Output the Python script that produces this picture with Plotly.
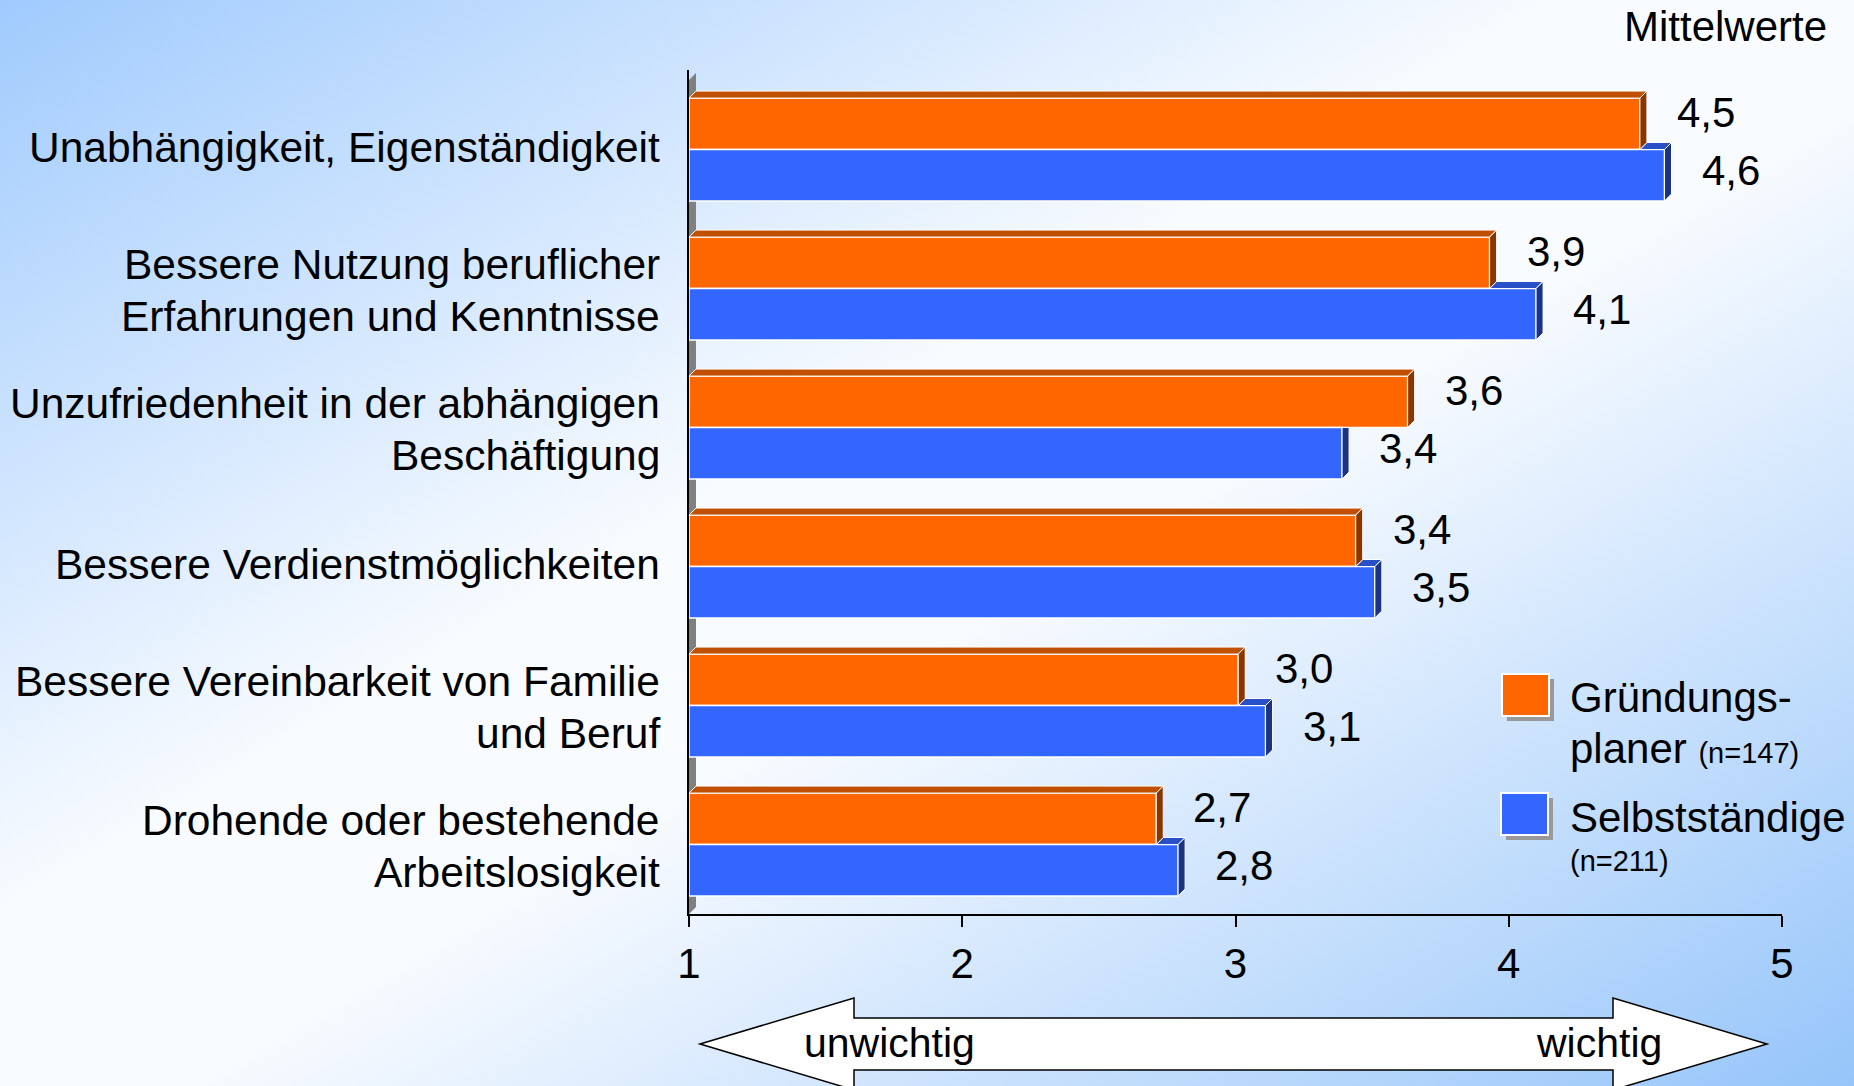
import base64
import numpy as np
import plotly.graph_objects as go

# ── Data ──────────────────────────────────────────────────────────────────────
categories = [
    "Unabhängigkeit, Eigenständigkeit",
    "Bessere Nutzung beruflicher<br>Erfahrungen und Kenntnisse",
    "Unzufriedenheit in der abhängigen<br>Beschäftigung",
    "Bessere Verdienstmöglichkeiten",
    "Bessere Vereinbarkeit von Familie<br>und Beruf",
    "Drohende oder bestehende<br>Arbeitslosigkeit",
]
gruendungsplaner = [4.48, 3.93, 3.63, 3.44, 3.01, 2.71]
selbststaendige = [4.57, 4.10, 3.39, 3.51, 3.11, 2.79]
series_labels = ["Gründungs-", "planer", "Selbstständige"]
series_n = ["(n=147)", "(n=211)"]
x_ticks = [1, 2, 3, 4, 5]
scale_labels = ["unwichtig", "wichtig"]
unit_label = "Mittelwerte"

# ── Colours ───────────────────────────────────────────────────────────────────
ORANGE, ORANGE_TOP, ORANGE_SIDE = "#FF6600", "#C04F00", "#8A3600"
BLUE, BLUE_TOP, BLUE_SIDE = "#3366FF", "#2A50C8", "#1A3385"
WALL = "#808080"
FONT = "Liberation Sans, Arial, sans-serif"

# ── Page geometry (pixels) ────────────────────────────────────────────────────
W, H = 1854, 1086
ML, MR, MT, MB = 689, 72, 70, 172
PW, PH = W - ML - MR, H - MT - MB
CAT_PX = 139                      # pixel height of one category band
BAR_W = 0.37                      # bar thickness in category units
DX = 7 / (PW / (x_ticks[-1] - x_ticks[0]))   # 3D depth in x units
DY = 7 / CAT_PX                               # 3D depth in category units
Y_RANGE = [len(categories) - 0.5, len(categories) - 0.5 - PH / CAT_PX]


def px(x):
    return (x - ML) / PW


def py(y):
    return (H - MB - y) / PH


pos = np.arange(len(categories))
y_or = pos - BAR_W / 2
y_bl = pos + BAR_W / 2
v_or = np.array(gruendungsplaner)
v_bl = np.array(selbststaendige)

fig = go.Figure()

# front faces
for yy, vals, col in [(y_or, v_or, ORANGE), (y_bl, v_bl, BLUE)]:
    fig.add_trace(go.Bar(
        y=yy, x=vals - 1, base=1, width=BAR_W, orientation="h",
        marker=dict(color=col, line=dict(color="white", width=1.5)),
        hoverinfo="skip", showlegend=False,
    ))


def add_poly(xs, ys, colour):
    fig.add_trace(go.Scatter(
        x=xs, y=ys, mode="lines", fill="toself", fillcolor=colour,
        line=dict(color="white", width=1), hoverinfo="skip", showlegend=False,
    ))


# 3D faces, built from the values
top_x, top_y, side_x, side_y = [], [], [], []
btop_x, btop_y, bside_x, bside_y = [], [], [], []
for i in range(len(categories)):
    t, b = y_or[i] - BAR_W / 2, y_or[i] + BAR_W / 2
    v = v_or[i]
    top_x += [1, v, v + DX, 1 + DX, 1, None]
    top_y += [t, t, t - DY, t - DY, t, None]
    side_x += [v, v + DX, v + DX, v, v, None]
    side_y += [t, t - DY, b - DY, b, t, None]

    tb, bb = y_bl[i] - BAR_W / 2, y_bl[i] + BAR_W / 2
    w = v_bl[i]
    if w > v:
        btop_x += [v, w, w + DX, v + DX, v, None]
        btop_y += [tb, tb, tb - DY, tb - DY, tb, None]
        bside_x += [w, w + DX, w + DX, w, w, None]
        bside_y += [tb, tb - DY, bb - DY, bb, tb, None]
    else:
        bside_x += [w, w + DX, w + DX, w, w, None]
        bside_y += [tb, tb, bb - DY, bb, tb, None]

add_poly(btop_x, btop_y, BLUE_TOP)
add_poly(bside_x, bside_y, BLUE_SIDE)
add_poly(top_x, top_y, ORANGE_TOP)
add_poly(side_x, side_y, ORANGE_SIDE)

annotations = []

# value labels
for yy, vals, shift in [(y_or, v_or, 11), (y_bl, v_bl, 5)]:
    for y, v in zip(yy, vals):
        annotations.append(dict(
            x=v, y=y, xref="x", yref="y", text=f"{v:.1f}".replace(".", ","),
            xanchor="left", yanchor="middle", xshift=35, yshift=shift,
            showarrow=False, font=dict(size=42, color="black", family=FONT),
        ))

# category labels, one annotation per line for tight line spacing
for i, cat in enumerate(categories):
    lines = cat.split("<br>")
    n = len(lines)
    base_shift = 2 if n == 1 else -2
    for j, line in enumerate(lines):
        annotations.append(dict(
            x=x_ticks[0], y=pos[i], xref="x", yref="y", text=line,
            xanchor="right", yanchor="middle", xshift=-27,
            yshift=-(j - (n - 1) / 2) * 52 + base_shift,
            showarrow=False, font=dict(size=42.5, color="black", family=FONT),
        ))

annotations.append(dict(
    x=px(1829), y=py(26), xref="paper", yref="paper", text=unit_label,
    xanchor="right", yanchor="middle", showarrow=False,
    font=dict(size=42, color="black", family=FONT),
))

# legend
shapes = []
for (x0, y0), col in [((1502, 674), ORANGE), ((1501, 793), BLUE)]:
    shapes.append(dict(type="rect", xref="paper", yref="paper",
                       x0=px(x0 + 5), x1=px(x0 + 52), y0=py(y0 + 5), y1=py(y0 + 47),
                       fillcolor="#999999", line=dict(width=0)))
    shapes.append(dict(type="rect", xref="paper", yref="paper",
                       x0=px(x0), x1=px(x0 + 47), y0=py(y0), y1=py(y0 + 42),
                       fillcolor=col, line=dict(color="white", width=2)))

legend_lines = [
    (series_labels[0], 697),
    (f"{series_labels[1]} <span style='font-size:29px'>{series_n[0]}</span>", 748),
    (series_labels[2], 817),
    (f"<span style='font-size:29px'>{series_n[1]}</span>", 861),
]
for text, y in legend_lines:
    annotations.append(dict(
        x=px(1568), y=py(y), xref="paper", yref="paper", text=text,
        xanchor="left", yanchor="middle", showarrow=False,
        font=dict(size=42, color="black", family=FONT),
    ))

# double arrow under the axis
arrow_pts = [(700, 1044), (854, 998), (854, 1018), (1613, 1018), (1613, 998),
             (1767, 1044), (1613, 1090), (1613, 1070), (854, 1070), (854, 1090)]
path = "M " + " L ".join(f"{px(x):.5f},{py(y):.5f}" for x, y in arrow_pts) + " Z"
shapes.append(dict(type="path", xref="paper", yref="paper", path=path,
                   fillcolor="white", line=dict(color="black", width=1.5)))
for text, x in zip(scale_labels, [889, 1599]):
    annotations.append(dict(
        x=px(x), y=py(1043), xref="paper", yref="paper", text=text,
        xanchor="center", yanchor="middle", showarrow=False,
        font=dict(size=41, color="black", family=FONT),
    ))

# grey 3D back wall behind the bars
shapes.append(dict(
    type="path", xref="x", yref="y", layer="below",
    path=(f"M 1,{Y_RANGE[0]} L 1,-0.5 L {1 + DX},{-0.5 - DY} "
          f"L {1 + DX},{Y_RANGE[0] - DY} Z"),
    fillcolor=WALL, line=dict(width=0),
))

# background gradient
svg = (
    f"<svg xmlns='http://www.w3.org/2000/svg' width='{W}' height='{H}' "
    f"viewBox='0 0 {W} {H}' preserveAspectRatio='none'>"
    "<defs><linearGradient id='g' x1='0' y1='0' x2='1' y2='1'>"
    "<stop offset='0' stop-color='#A0CBFD'/>"
    "<stop offset='0.42' stop-color='#F8FBFF'/>"
    "<stop offset='0.55' stop-color='#F8FBFF'/>"
    "<stop offset='1' stop-color='#96C5FA'/>"
    "</linearGradient></defs>"
    f"<rect width='{W}' height='{H}' fill='url(#g)'/></svg>"
)
bg_src = "data:image/svg+xml;base64," + base64.b64encode(svg.encode()).decode()

fig.update_layout(
    width=W, height=H,
    margin=dict(l=ML, r=MR, t=MT, b=MB, autoexpand=False),
    paper_bgcolor="white",
    plot_bgcolor="rgba(0,0,0,0)",
    barmode="overlay",
    showlegend=False,
    font=dict(family=FONT, color="black"),
    xaxis=dict(
        range=[x_ticks[0], x_ticks[-1]], tickvals=x_ticks,
        ticks="outside", ticklen=11, tickwidth=2, tickcolor="black",
        showline=True, linecolor="black", linewidth=2,
        showgrid=False, zeroline=False, ticklabelstandoff=1,
        tickfont=dict(size=42, color="black", family=FONT),
    ),
    yaxis=dict(
        range=Y_RANGE, showticklabels=False, ticks="",
        showline=True, linecolor="black", linewidth=2,
        showgrid=False, zeroline=False,
    ),
    images=[dict(
        source=bg_src, xref="paper", yref="paper",
        x=px(0), y=py(0), sizex=W / PW, sizey=H / PH,
        xanchor="left", yanchor="top", sizing="stretch", layer="below",
    )],
    shapes=shapes,
    annotations=annotations,
)

fig.write_html(
    "out.html",
    config={"displayModeBar": False},
    post_script="document.body.style.margin='0';document.body.style.overflow='hidden';",
)
